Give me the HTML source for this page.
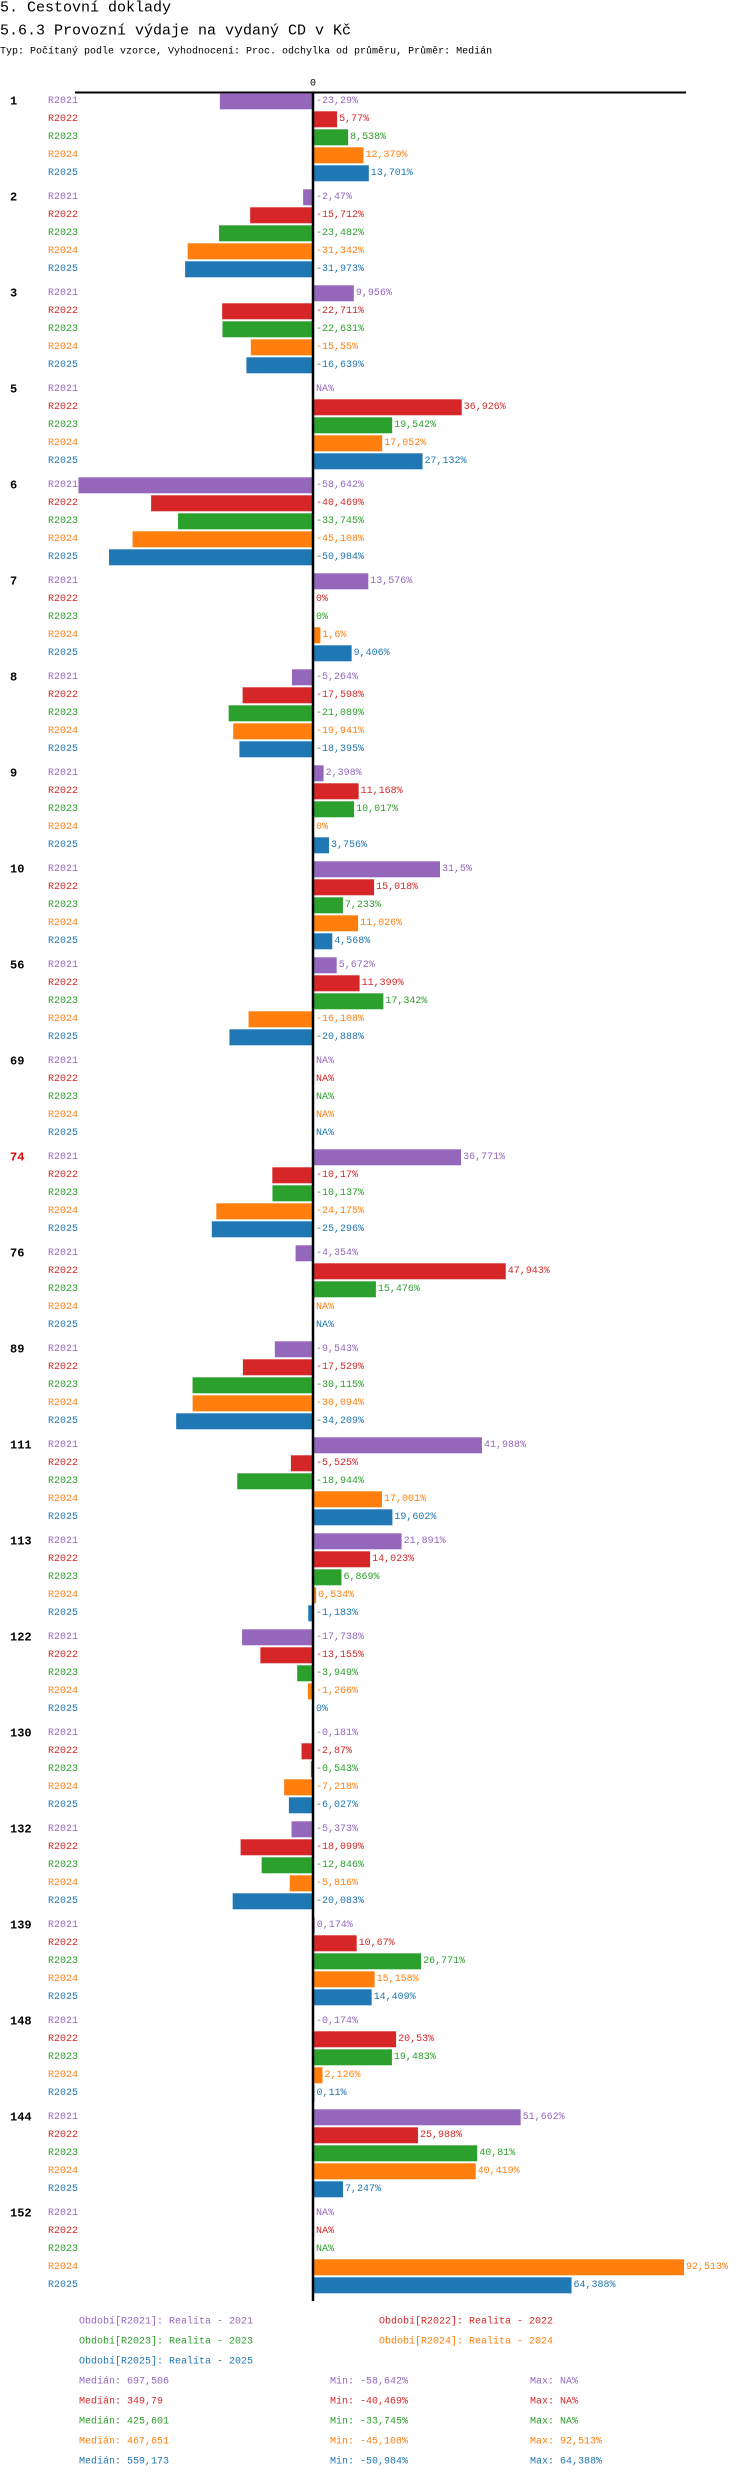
<!DOCTYPE html>
<html><head><meta charset="utf-8"><style>
body{margin:0;background:#fff;width:750px;height:2480px;overflow:hidden}
svg{display:block}
text{font-family:"Liberation Mono","DejaVu Sans Mono",monospace}
</style></head><body>
<svg id="chart" width="750" height="2480" xmlns="http://www.w3.org/2000/svg">
<text x="0" y="8" dominant-baseline="central" font-size="15">5. Cestovní doklady</text>
<text x="0" y="31" dominant-baseline="central" font-size="15">5.6.3 Provozní výdaje na vydaný CD v Kč</text>
<text x="0" y="52" dominant-baseline="central" font-size="10">Typ: Počítaný podle vzorce, Vyhodnocení: Proc. odchylka od průměru, Průměr: Medián</text>
<g id="marks"></g>
</svg>
<script>
const groups=["1","2","3","5","6","7","8","9","10","56","69","74","76","89","111","113","122","130","132","139","148","144","152"];
const periods=["R2021","R2022","R2023","R2024","R2025"];
const v2021=[-23.29,-2.47,9.956,null,-58.642,13.576,-5.264,2.398,31.5,5.672,null,36.771,-4.354,-9.543,41.988,21.891,-17.738,-0.181,-5.373,0.174,-0.174,51.662,null];
const v2022=[5.77,-15.712,-22.711,36.926,-40.469,0,-17.598,11.168,15.018,11.399,null,-10.17,47.943,-17.529,-5.525,14.023,-13.155,-2.87,-18.099,10.67,20.53,25.988,null];
const v2023=[8.538,-23.482,-22.631,19.542,-33.745,0,-21.089,10.017,7.233,17.342,null,-10.137,15.476,-30.115,-18.944,6.869,-3.949,-0.543,-12.846,26.771,19.483,40.81,null];
const v2024=[12.379,-31.342,-15.55,17.052,-45.108,1.6,-19.941,0,11.026,-16.108,null,-24.175,null,-30.094,17.001,0.534,-1.266,-7.218,-5.816,15.158,2.126,40.419,92.513];
const v2025=[13.701,-31.973,-16.639,27.132,-50.984,9.406,-18.395,3.756,4.568,-20.888,null,-25.296,null,-34.209,19.602,-1.183,0,-6.027,-20.083,14.409,0.11,7.247,64.388];
const series=[v2021,v2022,v2023,v2024,v2025];
const colors=["#9467bd","#d62728","#2ca02c","#ff7f0e","#1f77b4"];
const legendNames=["Období[R2021]: Realita - 2021","Období[R2022]: Realita - 2022","Období[R2023]: Realita - 2023","Období[R2024]: Realita - 2024","Období[R2025]: Realita - 2025"];
const medians=["697,506","349,79","425,601","467,651","559,173"];
const mins=["-58,642%","-40,469%","-33,745%","-45,108%","-50,984%"];
const maxs=["NA%","NA%","NA%","92,513%","64,388%"];

const NS="http://www.w3.org/2000/svg";
const g=document.getElementById('marks');
const X0=313, PX=4.0, Y0=101.3, GP=96, RP=18;
function x(v){return X0+v*PX;}
function y(gi,ri){return Y0+gi*GP+ri*RP;}
function mk(tag,attrs,txt){const e=document.createElementNS(NS,tag);for(const k in attrs)e.setAttribute(k,attrs[k]);if(txt!=null)e.textContent=txt;g.appendChild(e);return e;}
function fmt(v){return v==null?"NA%":String(v).replace('.',',')+"%";}

let zl=mk('text',{x:X0,y:84,'text-anchor':'middle','dominant-baseline':'central','font-size':10},'0');


let ax=mk('line',{x1:75,x2:686,y1:92.5,y2:92.5,stroke:'#000','stroke-width':2});



groups.forEach((gn,gi)=>{
  let gl=mk('text',{x:10,y:y(gi,0),'dominant-baseline':'central','font-size':12,'font-weight':'bold',fill:gn==="74"?"#e00000":"#000"},gn);
  
  
  periods.forEach((p,ri)=>{
    const cy=y(gi,ri), v=series[ri][gi], c=colors[ri];
    let pl=mk('text',{x:48,y:cy,'dominant-baseline':'central','font-size':10,fill:c},p);
    
    
    let lx=316;
    if(v!=null && v!==0){
      const x1=v>0?314:x(v), w=v>0?x(v)-313:312-x(v);
      let b=mk('rect',{x:x1,y:cy-8,width:Math.max(w,0.5),height:16,fill:c});
      
      
      if(v>0) lx=x(v)+3;
    }
    let vl=mk('text',{x:lx,y:cy,'dominant-baseline':'central','font-size':10,fill:c},fmt(v));
    
    
  });
});
let va=mk('line',{x1:X0,x2:X0,y1:92,y2:2301,stroke:'#000','stroke-width':2.5});



const legPos=[[79,2322],[379,2322],[79,2342],[379,2342],[79,2362]];
legendNames.forEach((t,i)=>{
  let l=mk('text',{x:legPos[i][0],y:legPos[i][1],'dominant-baseline':'central','font-size':10,fill:colors[i]},t);
  
  
});
colors.forEach((c,i)=>{
  const yy=2382+i*20;
  let a=mk('text',{x:79,y:yy,'dominant-baseline':'central','font-size':10,fill:c},'Medián: '+medians[i]);
  
  
  let b=mk('text',{x:330,y:yy,'dominant-baseline':'central','font-size':10,fill:c},'Min: '+mins[i]);
  
  
  let d=mk('text',{x:530,y:yy,'dominant-baseline':'central','font-size':10,fill:c},'Max: '+maxs[i]);
  
  
});
</script>
</body></html>
